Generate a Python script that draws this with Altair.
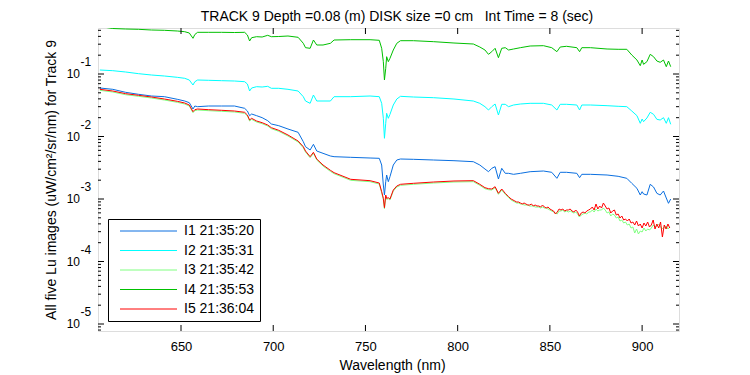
import altair as alt
import pandas as pd

FONT = "Liberation Sans, Arial, Helvetica, sans-serif"

series_names = ["I1 21:35:20", "I2 21:35:31", "I3 21:35:42", "I4 21:35:53", "I5 21:36:04"]
series_colors = ["#0a6fe0", "#00ffff", "#80ff80", "#00c000", "#ff0000"]

title_text = "TRACK 9 Depth =0.08 (m) DISK size =0 cm \u00a0 Int Time = 8 (sec)"
x_title = "Wavelength (nm)"
y_title = "All five Lu images (uW/cm\u00b2/sr/nm) for Track 9"

x_tick_values = [650, 700, 750, 800, 850, 900]
y_decades = [-5, -4, -3, -2, -1]

# wavelength grid (nm) shared by I1, I2, I4 (and the first part of I3, I5)
wl_grid = [606, 613, 620, 627, 634, 641, 648, 652, 654.5, 656.5, 657.5, 659, 665, 672, 679,
           684.5, 686, 687.2, 688.3, 691, 694, 697, 699, 703, 708, 713.5, 716.3, 717.5, 720,
           721.8, 723.6, 727, 731, 733, 742, 752.5, 757.5, 758.8, 759.7, 760.3, 761, 761.5,
           762.4, 763.3, 765.1, 767, 769, 776, 787, 798, 808.5, 812, 814.8, 816.7, 818.5,
           820.3, 822.1, 823.9, 825.8, 827.6, 830.3, 834, 839.3, 846.5, 851, 853.8, 855.6,
           859, 864.6, 866.1, 867.3, 872, 881, 887, 891.7, 894.4, 897.2, 899, 900, 900.8,
           902.6, 904.4, 906.2, 908, 909.8, 911.6, 913.1, 914.3, 915.5]

# log10 of Lu
i1_log10 = [-1.224, -1.245, -1.293, -1.325, -1.352, -1.363, -1.405, -1.432, -1.459, -1.56,
            -1.512, -1.523, -1.512, -1.512, -1.512, -1.549, -1.592, -1.667, -1.64, -1.667,
            -1.699, -1.747, -1.8, -1.827, -1.88, -1.933, -2.083, -2.163, -2.216, -2.125,
            -2.232, -2.269, -2.312, -2.323, -2.333, -2.344, -2.349, -2.456, -2.776, -2.936,
            -2.723, -2.616, -2.723, -2.643, -2.456, -2.376, -2.36, -2.365, -2.376, -2.387,
            -2.403, -2.456, -2.52, -2.563, -2.509, -2.483, -2.68, -2.509, -2.589, -2.589,
            -2.605, -2.589, -2.563, -2.552, -2.573, -2.669, -2.573, -2.573, -2.589, -2.659,
            -2.605, -2.605, -2.616, -2.637, -2.669, -2.749, -2.829, -2.936, -2.883, -2.92,
            -2.936, -2.765, -2.808, -2.909, -2.936, -2.872, -2.984, -3.069, -3.0]

i2_log10 = [-0.936, -0.947, -0.968, -0.995, -1.016, -1.032, -1.053, -1.069, -1.096, -1.176,
            -1.123, -1.096, -1.101, -1.107, -1.112, -1.123, -1.16, -1.272, -1.224, -1.203,
            -1.208, -1.197, -1.229, -1.229, -1.245, -1.272, -1.363, -1.432, -1.469, -1.336,
            -1.432, -1.432, -1.432, -1.363, -1.363, -1.352, -1.363, -1.469, -1.709, -2.029,
            -1.789, -1.629, -1.709, -1.645, -1.496, -1.4, -1.357, -1.368, -1.379, -1.4,
            -1.432, -1.469, -1.523, -1.576, -1.523, -1.48, -1.656, -1.485, -1.485, -1.523,
            -1.496, -1.48, -1.469, -1.469, -1.496, -1.576, -1.485, -1.485, -1.496, -1.576,
            -1.496, -1.496, -1.507, -1.517, -1.523, -1.592, -1.667, -1.789, -1.72, -1.763,
            -1.704, -1.613, -1.645, -1.725, -1.736, -1.699, -1.789, -1.699, -1.805]

i4_log10 = [-0.24, -0.272, -0.28, -0.285, -0.296, -0.301, -0.312, -0.323, -0.344, -0.429,
            -0.368, -0.333, -0.333, -0.333, -0.336, -0.333, -0.376, -0.472, -0.419, -0.403,
            -0.408, -0.381, -0.403, -0.4, -0.392, -0.413, -0.509, -0.579, -0.589, -0.456,
            -0.536, -0.536, -0.509, -0.456, -0.451, -0.451, -0.461, -0.589, -0.803, -1.096,
            -0.909, -0.723, -0.803, -0.749, -0.616, -0.509, -0.467, -0.467, -0.483, -0.504,
            -0.52, -0.568, -0.616, -0.685, -0.643, -0.589, -0.739, -0.589, -0.579, -0.616,
            -0.6, -0.579, -0.552, -0.547, -0.579, -0.643, -0.568, -0.557, -0.579, -0.643,
            -0.579, -0.579, -0.6, -0.605, -0.605, -0.696, -0.776, -0.867, -0.776, -0.845,
            -0.803, -0.685, -0.723, -0.792, -0.813, -0.776, -0.883, -0.792, -0.883]

# I3 and I5: first 60 grid points, then a 1 nm grid where they are noisy
i5_log10_smooth = [-1.245, -1.272, -1.315, -1.341, -1.368, -1.4, -1.437, -1.464, -1.496, -1.603,
                   -1.571, -1.56, -1.571, -1.581, -1.592, -1.613, -1.656, -1.736, -1.709, -1.752,
                   -1.779, -1.816, -1.859, -1.901, -1.976, -2.072, -2.163, -2.232, -2.323, -2.253,
                   -2.36, -2.456, -2.541, -2.579, -2.685, -2.707, -2.744, -2.883, -2.989, -3.139,
                   -2.936, -2.989, -2.979, -3.0, -2.856, -2.792, -2.765, -2.749, -2.728, -2.712,
                   -2.707, -2.765, -2.819, -2.835, -2.84, -2.803, -2.909, -2.84, -2.909, -2.963]

i3_log10_smooth = [-1.261, -1.288, -1.331, -1.357, -1.384, -1.416, -1.453, -1.48, -1.512, -1.619,
                   -1.587, -1.576, -1.587, -1.597, -1.608, -1.629, -1.672, -1.752, -1.725, -1.768,
                   -1.795, -1.832, -1.875, -1.917, -1.992, -2.088, -2.179, -2.248, -2.339, -2.269,
                   -2.376, -2.472, -2.557, -2.595, -2.701, -2.723, -2.76, -2.899, -3.005, -3.155,
                   -2.952, -3.005, -2.995, -3.016, -2.872, -2.808, -2.781, -2.765, -2.744, -2.728,
                   -2.723, -2.781, -2.835, -2.851, -2.856, -2.819, -2.925, -2.856, -2.925, -2.979]

wl_fine = [829, 830, 831, 832, 833, 834, 835, 836, 837, 838, 839, 840, 841, 842, 843, 844, 845,
           846, 847, 848, 849, 850, 851, 852, 853, 854, 855, 856, 857, 858, 859, 860, 861, 862,
           863, 864, 865, 866, 867, 868, 869, 870, 871, 872, 873, 874, 875, 876, 877, 878, 879,
           880, 881, 882, 883, 884, 885, 886, 887, 888, 889, 890, 891, 892, 893, 894, 895, 896,
           897, 898, 899, 900, 901, 902, 903, 904, 905, 906, 907, 908, 909, 910, 911, 912, 913,
           914, 915]

i5_log10_fine = [-3.0, -3.016, -3.032, -3.048, -3.048, -3.064, -3.08, -3.064, -3.08, -3.096,
                 -3.096, -3.08, -3.112, -3.096, -3.112, -3.112, -3.128, -3.096, -3.128, -3.144,
                 -3.128, -3.16, -3.176, -3.192, -3.24, -3.208, -3.16, -3.176, -3.16, -3.192,
                 -3.176, -3.176, -3.16, -3.192, -3.208, -3.176, -3.208, -3.272, -3.224, -3.208,
                 -3.224, -3.192, -3.176, -3.16, -3.128, -3.176, -3.08, -3.16, -3.112, -3.144,
                 -3.064, -3.112, -3.16, -3.144, -3.224, -3.192, -3.176, -3.256, -3.24, -3.304,
                 -3.272, -3.336, -3.32, -3.352, -3.32, -3.384, -3.368, -3.416, -3.352, -3.432,
                 -3.4, -3.464, -3.384, -3.432, -3.368, -3.448, -3.416, -3.336, -3.48, -3.4,
                 -3.464, -3.368, -3.608, -3.416, -3.48, -3.4, -3.464]

i3_log10_fine = [-3.016, -3.032, -3.048, -3.064, -3.064, -3.08, -3.08, -3.096, -3.096, -3.096,
                 -3.112, -3.112, -3.112, -3.128, -3.128, -3.128, -3.144, -3.128, -3.144, -3.144,
                 -3.16, -3.176, -3.192, -3.208, -3.224, -3.24, -3.192, -3.192, -3.176, -3.208,
                 -3.192, -3.208, -3.192, -3.208, -3.224, -3.208, -3.24, -3.288, -3.256, -3.24,
                 -3.224, -3.24, -3.208, -3.208, -3.176, -3.208, -3.16, -3.192, -3.176, -3.176,
                 -3.144, -3.176, -3.224, -3.208, -3.272, -3.24, -3.256, -3.304, -3.288, -3.352,
                 -3.336, -3.384, -3.368, -3.416, -3.4, -3.464, -3.448, -3.544, -3.48, -3.56,
                 -3.512, -3.528, -3.464, -3.512, -3.48, -3.496, -3.464, -3.416, -3.448, -3.432,
                 -3.4, -3.448, -3.48, -3.448, -3.432, -3.48, -3.448]

# ---------------------------------------------------------------- data table
series = [
    (series_names[0], wl_grid, i1_log10),
    (series_names[1], wl_grid, i2_log10),
    (series_names[2], wl_grid[:60] + wl_fine, i3_log10_smooth + i3_log10_fine),
    (series_names[3], wl_grid, i4_log10),
    (series_names[4], wl_grid[:60] + wl_fine, i5_log10_smooth + i5_log10_fine),
]
rows = []
for name, wls, logs in series:
    assert len(wls) == len(logs), name
    for w, lg in zip(wls, logs):
        rows.append({"image": name, "wavelength": w, "lu": 10.0 ** lg})
df = pd.DataFrame(rows)

W, H = 581, 303
x_scale = alt.Scale(domain=[605, 920], nice=False, zero=False)
y_scale = alt.Scale(type="log", domain=[10 ** -5.112, 10 ** -0.264], nice=False)

x_axis = alt.Axis(values=x_tick_values, ticks=False, domain=False, grid=False,
                  labelFont=FONT, labelFontSize=13, labelColor="black", labelPadding=9,
                  title=x_title, titleFont=FONT, titleFontSize=14, titleFontWeight="normal",
                  titleColor="black", titleX=294, titleY=38, titleAlign="center",
                  titleBaseline="alphabetic")
y_axis = alt.Axis(labels=False, ticks=False, domain=False, grid=False,
                  title=y_title, titleFont=FONT, titleFontSize=14, titleFontWeight="normal",
                  titleColor="black", titleX=-43, titleY=151.5, titleAngle=270,
                  titleAlign="center", titleBaseline="alphabetic")

lines = alt.Chart(df).mark_line(strokeWidth=1, clip=True).encode(
    x=alt.X("wavelength:Q", scale=x_scale, axis=x_axis),
    y=alt.Y("lu:Q", scale=y_scale, axis=y_axis),
    color=alt.Color("image:N", scale=alt.Scale(domain=series_names, range=series_colors),
                    legend=alt.Legend(title=None, orient="none", legendX=10, legendY=191,
                                      direction="vertical", fillColor="white", strokeColor="black",
                                      padding=5, cornerRadius=0, symbolType="M0,0H10",
                                      symbolSize=130, symbolStrokeWidth=1,
                                      labelFont=FONT, labelFontSize=14, labelColor="black",
                                      labelOffset=57, rowPadding=5.5)),
)

# inward tick marks (MATLAB style)
df_xt = pd.DataFrame({"wavelength": x_tick_values})
y_major = [10.0 ** e for e in y_decades]
y_minor = []
for e in range(-6, 0):
    for m in range(2, 10):
        v = m * 10.0 ** e
        if 10 ** -5.112 <= v <= 10 ** -0.264:
            y_minor.append(v)
df_ymaj = pd.DataFrame({"lu": y_major})
df_ymin = pd.DataFrame({"lu": y_minor})


def xt(y0, y1):
    return alt.Chart(df_xt).mark_rule(color="black", strokeWidth=1).encode(
        x=alt.X("wavelength:Q", scale=x_scale, axis=x_axis), y=alt.value(y0), y2=alt.value(y1))


def yt(d, x0, x1):
    return alt.Chart(d).mark_rule(color="black", strokeWidth=1).encode(
        y=alt.Y("lu:Q", scale=y_scale, axis=y_axis), x=alt.value(x0), x2=alt.value(x1))


ticks = [xt(H, H - 6), xt(0, 6),
         yt(df_ymaj, 0, 6), yt(df_ymaj, W, W - 6),
         yt(df_ymin, 0, 3), yt(df_ymin, W, W - 3)]

# y tick labels as 10 with raised exponent
df_ylab = pd.DataFrame({"lu": y_major, "base": ["10"] * len(y_decades),
                        "exp": [str(e) for e in y_decades]})
base_txt = alt.Chart(df_ylab).mark_text(align="right", baseline="alphabetic", dy=4,
                                        font=FONT, fontSize=12, color="black").encode(
    x=alt.value(-18), y=alt.Y("lu:Q", scale=y_scale, axis=y_axis), text="base:N")
exp_txt = alt.Chart(df_ylab).mark_text(align="left", baseline="alphabetic", dy=-8,
                                       font=FONT, fontSize=12, color="black").encode(
    x=alt.value(-17.5), y=alt.Y("lu:Q", scale=y_scale, axis=y_axis), text="exp:N")

# chart title
df_title = pd.DataFrame({"t": [title_text]})
title_txt = alt.Chart(df_title).mark_text(align="center", baseline="alphabetic", font=FONT,
                                          fontSize=14, color="black").encode(
    x=alt.value(W / 2 + 8.5), y=alt.value(-7.5), text="t:N")

chart = alt.layer(lines, *ticks, base_txt, exp_txt, title_txt).properties(
    width=W, height=H,
    autosize=alt.AutoSizeParams(type="none"),
    padding={"left": 90, "top": 20, "right": 61, "bottom": 43},
).configure_view(stroke="black", strokeWidth=1).configure(background="white")

chart.save("out.html", embed_options={"renderer": "svg", "actions": False})
